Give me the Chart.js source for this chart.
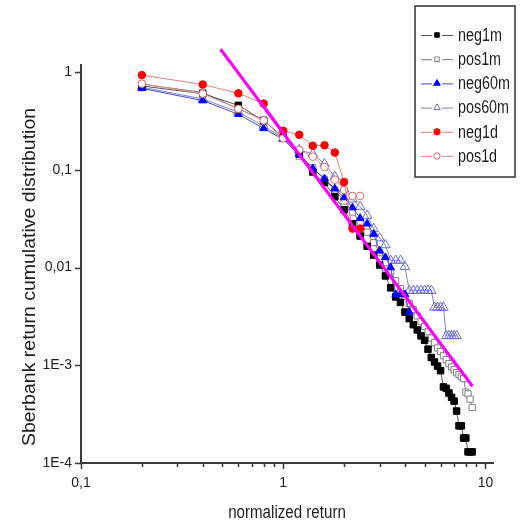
<!DOCTYPE html>
<html>
<head>
<meta charset="utf-8">
<script src="https://cdn.jsdelivr.net/npm/chart.js@4.4.1/dist/chart.umd.min.js"></script>
<style>
  html, body { margin: 0; padding: 0; background: #ffffff; }
  canvas { display: block; }
</style>
</head>
<body>
<canvas id="c" width="529" height="525"></canvas>
<script>
// Normalized return grid shared by all series
const returnGrid = [0.2, 0.4, 0.6, 0.8, 1.0, 1.2, 1.4, 1.6, 1.8, 2.0,
  2.2, 2.4, 2.6, 2.8, 3.0, 3.2, 3.4, 3.6, 3.8, 4.0,
  4.2, 4.4, 4.6, 4.8, 5.0, 5.2, 5.4, 5.6, 5.8, 6.0,
  6.2, 6.4, 6.6, 6.8, 7.0, 7.2, 7.4, 7.6, 7.8, 8.0,
  8.2, 8.4, 8.6];

// Cumulative distribution values per series (aligned with returnGrid)
const neg1m = [0.72, 0.60, 0.456, 0.318, 0.215, 0.145, 0.095, 0.074, 0.053, 0.039,
  0.028, 0.021, 0.0165, 0.0134, 0.0106, 0.0082, 0.0062, 0.0050, 0.0044, 0.0035,
  0.0030, 0.0026, 0.0023, 0.0020, 0.0018, 0.00146, 0.00120, 0.00108, 0.00098, 0.00088,
  0.00060, 0.00058, 0.00052, 0.00047, 0.00043, 0.00034, 0.00024, 0.00024, 0.00018, 0.00018,
  0.00013, 0.00013, 0.00013];
const pos1m = [0.75, 0.62, 0.42, 0.325, 0.21, 0.138, 0.105, 0.080, 0.062, 0.048,
  0.037, 0.029, 0.023, 0.018, 0.0142, 0.0112, 0.0090, 0.0073, 0.0061, 0.0051,
  0.0043, 0.0037, 0.0032, 0.0028, 0.0025, 0.0022, 0.0019, 0.0017, 0.0015, 0.00138,
  0.00125, 0.00114, 0.00104, 0.00096, 0.00090, 0.00084, 0.00080, 0.00076, 0.00073, 0.00053,
  0.00051, 0.00045, 0.00037];
const neg60m = [0.68, 0.51, 0.37, 0.265, 0.205, 0.145, 0.103, 0.081, 0.064, 0.052,
  0.041, 0.032, 0.028, 0.022, 0.0148, 0.0127, 0.0100, 0.0053, 0.0053, 0.0053,
  0.0035];
const pos60m = [0.70, 0.53, 0.39, 0.28, 0.21, 0.16, 0.145, 0.115, 0.085, 0.064,
  0.050, 0.042, 0.034, 0.025, 0.020, 0.017, 0.0118, 0.0118, 0.0118, 0.0102,
  0.0058, 0.0058, 0.0058, 0.0058, 0.0058, 0.0058, 0.0058, 0.0039, 0.0039, 0.0039,
  0.0039, 0.0020, 0.0020, 0.0020, 0.0020, 0.0020];
const neg1d = [0.93, 0.745, 0.605, 0.475, 0.25, 0.228, 0.176, 0.178, 0.15, 0.075,
  0.025, 0.025];
const pos1d = [0.76, 0.60, 0.42, 0.32, 0.21, 0.16, 0.136, 0.107, 0.079, 0.062,
  0.054, 0.054];

// Power-law guide line (end points)
const fitX = [0.49, 8.63];
const fitY = [1.71, 0.00061];

// Axis ticks and labels
const xTickValues = [0.1, 1, 10];
const xTickLabels = ['0,1', '1', '10'];
const yTickValues = [0.0001, 0.001, 0.01, 0.1, 1];
const yTickLabels = ['1E-4', '1E-3', '0,01', '0,1', '1'];
const xTitle = 'normalized return';
const yTitle = 'Sberbank return cumulative distribution';

const axisColor = '#3a3a3a';
const textColor = '#1e1e1e';
const plainFont = '"Liberation Sans", Arial, sans-serif';

function pairs(values) {
  return values.map((v, i) => ({ x: returnGrid[i], y: v }));
}

function series(label, values, opts) {
  return Object.assign({
    label: label,
    data: pairs(values),
    showLine: true,
    borderWidth: 1,
    pointBorderWidth: 1,
    order: 2
  }, opts);
}

const datasets = [
  series('neg1m', neg1m, {
    borderColor: '#555555', pointStyle: 'rect', pointRadius: 4.6,
    pointBackgroundColor: '#000000', pointBorderColor: '#000000', order: 3
  }),
  series('pos1m', pos1m, {
    borderColor: '#777777', pointStyle: 'rect', pointRadius: 4.4,
    pointBackgroundColor: '#ffffff', pointBorderColor: '#808080', order: 4
  }),
  series('neg60m', neg60m, {
    borderColor: '#4848d8', pointStyle: 'triangle', pointRadius: 4.5,
    pointBackgroundColor: '#0000ff', pointBorderColor: '#0000ff', order: 2
  }),
  series('pos60m', pos60m, {
    borderColor: '#8080d0', pointStyle: 'triangle', pointRadius: 5.5,
    pointBackgroundColor: 'rgba(255,255,255,0)', pointBorderColor: '#6e6ed0', order: 5
  }),
  series('neg1d', neg1d, {
    borderColor: '#e68080', pointStyle: 'circle', pointRadius: 3.8,
    pointBackgroundColor: '#ff0000', pointBorderColor: '#ff0000', order: 1
  }),
  series('pos1d', pos1d, {
    borderColor: '#e89090', pointStyle: 'circle', pointRadius: 3.8,
    pointBackgroundColor: '#ffffff', pointBorderColor: '#e06868', order: 1.5
  }),
  {
    label: 'fit',
    data: fitX.map((v, i) => ({ x: v, y: fitY[i] })),
    showLine: true,
    borderColor: '#ff00ff',
    borderWidth: 3,
    pointRadius: 0,
    clip: false,
    order: 0
  }
];

// Tick marks: majors point outward, minors on the x axis are shorter
const axisTicks = {
  id: 'axisTicks',
  afterDraw(chart) {
    const { ctx, chartArea: a } = chart;
    const xs = chart.scales.x, ys = chart.scales.y;
    ctx.save();
    ctx.strokeStyle = axisColor;
    ctx.lineWidth = 1.5;
    ctx.beginPath();
    xTickValues.forEach(v => {
      const px = Math.round(xs.getPixelForValue(v)) + 0.5;
      ctx.moveTo(px, a.bottom);
      ctx.lineTo(px, a.bottom + 6);
    });
    [0.1, 1].forEach(dec => {
      for (let k = 2; k <= 9; k++) {
        const px = Math.round(xs.getPixelForValue(dec * k)) + 0.5;
        ctx.moveTo(px, a.bottom);
        ctx.lineTo(px, a.bottom + 4);
      }
    });
    yTickValues.forEach(v => {
      const py = Math.round(ys.getPixelForValue(v)) + 0.5;
      ctx.moveTo(a.left, py);
      ctx.lineTo(a.left - 6, py);
    });
    ctx.stroke();
    ctx.restore();
  }
};

// Draws text squeezed horizontally (condensed look)
function condensedText(ctx, text, x, y, size, squeeze, align) {
  ctx.save();
  ctx.font = size + 'px ' + plainFont;
  ctx.textBaseline = 'middle';
  ctx.textAlign = align;
  ctx.translate(x, y);
  ctx.scale(squeeze, 1);
  ctx.fillText(text, 0, 0);
  ctx.restore();
}

// Axis titles
const axisTitles = {
  id: 'axisTitles',
  afterDraw(chart) {
    const ctx = chart.ctx;
    const a = chart.chartArea;
    ctx.save();
    ctx.fillStyle = textColor;
    condensedText(ctx, xTitle, (a.left + a.right) / 2, 513, 18, 0.84, 'center');
    ctx.translate(30, 277);
    ctx.rotate(-Math.PI / 2);
    ctx.font = '19.5px ' + plainFont;
    ctx.textAlign = 'center';
    ctx.textBaseline = 'middle';
    ctx.scale(1, 0.92);
    ctx.fillText(yTitle, 0, 0);
    ctx.restore();
  }
};

// Boxed legend in the upper right corner
const boxLegend = {
  id: 'boxLegend',
  afterDraw(chart) {
    const ctx = chart.ctx;
    const box = { left: 415, top: 6, right: 515, bottom: 177 };
    ctx.save();
    ctx.fillStyle = '#ffffff';
    ctx.fillRect(box.left, box.top, box.right - box.left, box.bottom - box.top);
    ctx.strokeStyle = '#333333';
    ctx.lineWidth = 1.5;
    ctx.strokeRect(box.left, box.top, box.right - box.left, box.bottom - box.top);
    const entries = chart.data.datasets.filter(d => d.label !== 'fit');
    entries.forEach((d, i) => {
      const y = 35 + i * 24.2;
      ctx.strokeStyle = d.borderColor;
      ctx.lineWidth = 1;
      ctx.beginPath();
      ctx.moveTo(421, y + 0.5); ctx.lineTo(432, y + 0.5);
      ctx.moveTo(442, y + 0.5); ctx.lineTo(453, y + 0.5);
      ctx.stroke();
      ctx.fillStyle = d.pointBackgroundColor;
      ctx.strokeStyle = d.pointBorderColor;
      ctx.lineWidth = 1;
      Chart.helpers.drawPoint(ctx, {
        pointStyle: d.pointStyle, radius: d.pointStyle === 'triangle' ? 3.8 : 3.2, rotation: 0, borderWidth: 1
      }, 437, y);
      ctx.fillStyle = textColor;
      condensedText(ctx, d.label, 458, y + 1, 17.5, 0.82, 'left');
    });
    ctx.restore();
  }
};

new Chart(document.getElementById('c'), {
  type: 'scatter',
  data: { datasets: datasets },
  plugins: [axisTicks, axisTitles, boxLegend],
  options: {
    responsive: false,
    animation: false,
    devicePixelRatio: 1,
    layout: { padding: { left: 0, top: 65, right: 36, bottom: 0 } },
    plugins: { legend: { display: false }, tooltip: { enabled: false } },
    elements: { line: { tension: 0 } },
    scales: {
      x: {
        type: 'logarithmic',
        min: 0.1,
        max: 10.9,
        afterFit(s) { s.height = 62; },
        afterBuildTicks(s) { s.ticks = xTickValues.map(v => ({ value: v })); },
        grid: { display: false, drawTicks: false },
        border: { display: true, color: axisColor, width: 2 },
        ticks: {
          autoSkip: false, maxRotation: 0, padding: 12,
          color: textColor,
          font: { family: plainFont, size: 14 },
          callback: (v, i) => xTickLabels[i]
        }
      },
      y: {
        type: 'logarithmic',
        min: 0.0001,
        max: 1.18,
        afterFit(s) { s.width = 81; },
        afterBuildTicks(s) { s.ticks = yTickValues.map(v => ({ value: v })); },
        grid: { display: false, drawTicks: false },
        border: { display: true, color: axisColor, width: 2 },
        ticks: {
          autoSkip: false, padding: 9,
          color: textColor,
          font: { family: plainFont, size: 14 },
          callback: (v, i) => yTickLabels[i]
        }
      }
    }
  }
});
</script>
</body>
</html>
